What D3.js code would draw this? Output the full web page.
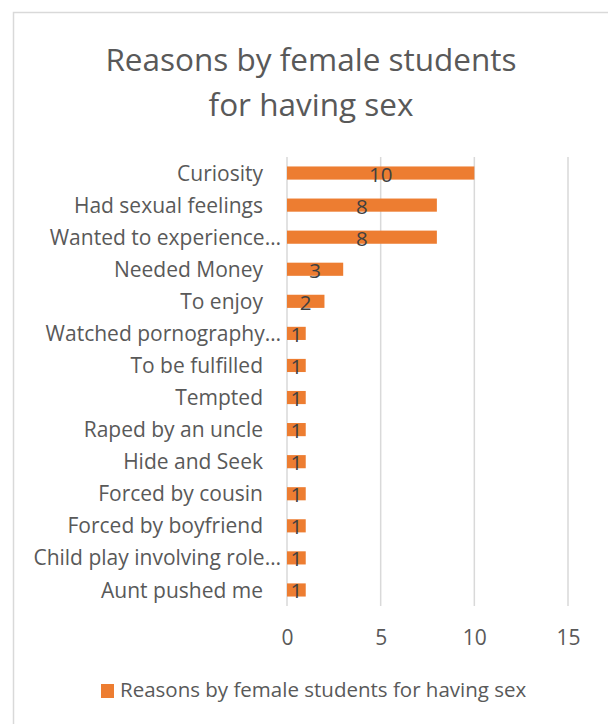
<!DOCTYPE html>
<html>
<head>
<meta charset="utf-8">
<script src="https://cdn.jsdelivr.net/npm/d3@7"></script>
<style>
  html, body { margin: 0; padding: 0; background: #fff; }
  svg { display: block; font-family: "Open Sans", Lato, sans-serif; }
</style>
</head>
<body>
<svg id="chart" width="608" height="724"></svg>
<script>
// Reasons given, top to bottom, and how many students gave each
const categories = [
  "Curiosity",
  "Had sexual feelings",
  "Wanted to experience…",
  "Needed Money",
  "To enjoy",
  "Watched pornography…",
  "To be fulfilled",
  "Tempted",
  "Raped by an uncle",
  "Hide and Seek",
  "Forced by cousin",
  "Forced by boyfriend",
  "Child play involving role…",
  "Aunt pushed me"
];
const counts = [10, 8, 8, 3, 2, 1, 1, 1, 1, 1, 1, 1, 1, 1];
const xTicks = [0, 5, 10, 15];
const titleLines = ["Reasons by female students", "for having sex"];
const seriesName = "Reasons by female students for having sex";

const orange = "#ed7d31";
const textGrey = "#595959";
const labelDark = "#404040";
const gridGrey = "#d9d9d9";
const fontFamily = "'Open Sans', Lato, sans-serif";

const svg = d3.select("#chart");

// Chart frame
svg.append("rect")
  .attr("x", 13.5).attr("y", 12.5)
  .attr("width", 620).attr("height", 740)
  .attr("fill", "#fff")
  .attr("stroke", gridGrey)
  .attr("stroke-width", 1.5);

// Title
svg.append("g").selectAll("text")
  .data(titleLines)
  .join("text")
  .attr("x", 311)
  .attr("y", (d, i) => 71 + i * 45)
  .attr("text-anchor", "middle")
  .attr("font-size", 31.5)
  .attr("fill", textGrey)
  .text(d => d);

const plot = { left: 287, right: 568, top: 157, bottom: 606 };

const x = d3.scaleLinear().domain([0, 15]).range([plot.left, plot.right]);
const y = d3.scaleBand().domain(categories).range([plot.top, plot.bottom]).paddingInner(0.59).paddingOuter(0.295);

// Vertical gridlines
svg.append("g").selectAll("line")
  .data(xTicks)
  .join("line")
  .attr("x1", d => x(d)).attr("x2", d => x(d))
  .attr("y1", plot.top).attr("y2", plot.bottom)
  .attr("stroke", gridGrey)
  .attr("stroke-width", 1.5);

// X axis tick labels
const xAxis = d3.axisBottom(x).tickValues(xTicks).tickSize(0).tickPadding(0);
const xg = svg.append("g")
  .attr("transform", `translate(0,${plot.bottom + 24})`)
  .call(xAxis);
xg.select(".domain").remove();
xg.selectAll("text")
  .attr("font-family", fontFamily)
  .attr("font-size", 21)
  .attr("fill", textGrey);

// Category labels
const yAxis = d3.axisLeft(y).tickSize(0).tickPadding(0);
const yg = svg.append("g")
  .attr("transform", `translate(${plot.left - 24},0)`)
  .call(yAxis);
yg.select(".domain").remove();
yg.selectAll("text")
  .attr("font-family", fontFamily)
  .attr("font-size", 21)
  .attr("fill", textGrey)
  .attr("dy", "0.36em")
  .attr("dx", d => d.endsWith("…") ? 18 : 0);

// Bars
svg.append("g").selectAll("rect")
  .data(categories)
  .join("rect")
  .attr("x", x(0))
  .attr("y", d => y(d))
  .attr("width", (d, i) => x(counts[i]) - x(0))
  .attr("height", y.bandwidth())
  .attr("fill", orange);

// Value labels, centred on each bar
svg.append("g").selectAll("text")
  .data(categories)
  .join("text")
  .attr("x", (d, i) => x(counts[i] / 2))
  .attr("y", d => y(d) + y.bandwidth() / 2 + 8.5)
  .attr("text-anchor", "middle")
  .attr("font-size", 20.5)
  .attr("fill", labelDark)
  .text((d, i) => counts[i]);

// Legend
const legend = svg.append("g").attr("transform", "translate(101,684)");
legend.append("rect")
  .attr("width", 13).attr("height", 14)
  .attr("fill", orange);
legend.append("text")
  .attr("x", 19).attr("y", 13)
  .attr("font-size", 20.5)
  .attr("fill", textGrey)
  .text(seriesName);
</script>
</body>
</html>
